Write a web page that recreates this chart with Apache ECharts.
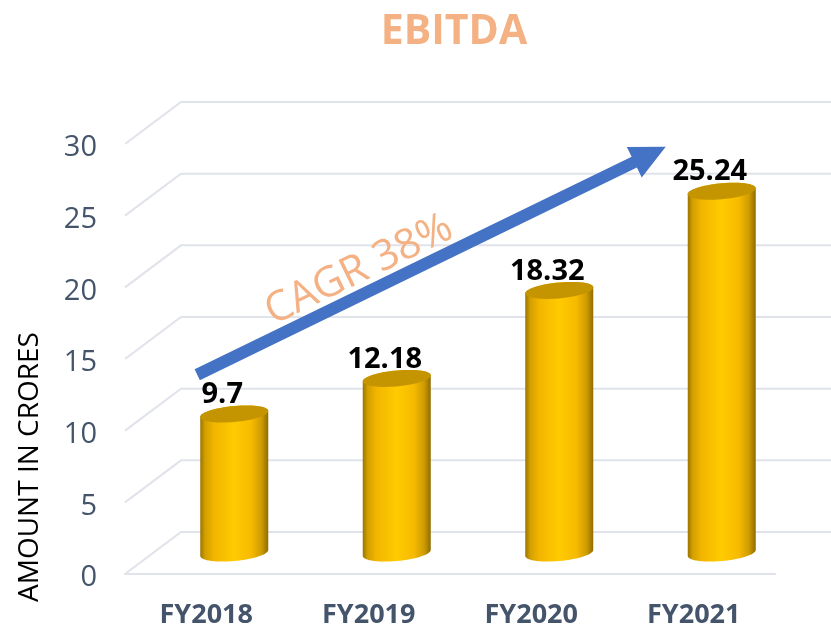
<!DOCTYPE html>
<html><head><meta charset="utf-8">
<style>html,body{margin:0;padding:0;background:#fff}#c{width:831px;height:629px}</style>
<script src="https://cdn.jsdelivr.net/npm/echarts@6/dist/echarts.min.js"></script>
</head><body><div id="c"></div>
<script>
const categories = ['FY2018','FY2019','FY2020','FY2021'];
const values = [9.7,12.18,18.32,25.24];
const labels = ['9.7','12.18','18.32','25.24'];
const yTicks = [0,5,10,15,20,25,30];
const arrowFrom = ['FY2018',13.9];
const arrowTo = ['FY2021',29.8];
const cagrText = 'CAGR 38%';
const yName = 'AMOUNT IN CRORES';
const titleText = 'EBITDA';

const DX = 56, DY = -42, FONT = '"Open Sans", sans-serif';
const GRID = '#E0E3EA', ORANGE = '#F4B183', SLATE = '#44546A';

function ell(cx, cy, from, to, n){
  const pts = [];
  for (let i = 0; i <= n; i++){
    const t = from + (to-from)*i/n;
    pts.push([cx + 34*Math.cos(t), cy - 3*Math.cos(t) - 8*Math.sin(t)]);
  }
  return pts;
}
function renderWall(params, api){
  const cs = params.coordSys;
  const y = api.coord([categories[0], api.value(0)])[1];
  return {type:'polyline', z2:1, shape:{points:[[cs.x,y],[cs.x+DX,y+DY],[cs.x+cs.width+DX,y+DY]]},
    style:{stroke:GRID, lineWidth:2, fill:null}};
}
function renderCyl(params, api){
  const p = api.coord([api.value(0), api.value(1)]);
  const p0 = api.coord([api.value(0), 0]);
  const cx = p0[0]+DX/2, by = p0[1]+DY/2, ty = p[1]+DY/2;
  const body = ell(cx,by,Math.PI,2*Math.PI,30).concat(ell(cx,ty,0,Math.PI,30));
  const grad = {type:'linear',x:cx-34,y:0,x2:cx+34,y2:0,global:true,colorStops:[
    {offset:0,color:'#9A7400'},{offset:0.07,color:'#D19F00'},{offset:0.2,color:'#F2B500'},
    {offset:0.5,color:'#FFCB00'},{offset:0.75,color:'#F6BA00'},{offset:0.9,color:'#CF9C00'},{offset:1,color:'#8F6C00'}]};
  return {type:'group', children:[
    {type:'polygon',shape:{points:body},style:{fill:grad}},
    {type:'polygon',shape:{points:ell(cx,ty,0,2*Math.PI,60)},style:{fill:'#C49500'}},
    {type:'text',style:{text:labels[params.dataIndex],x:cx-12,y:ty-19,align:'center',verticalAlign:'middle',
      font:'bold 29px '+FONT,fill:'#000'}}
  ]};
}
function renderArrow(params, api){
  const a = api.coord(arrowFrom), b = api.coord(arrowTo);
  const x0=a[0]-9,y0=a[1],x1=b[0]-28,y1=b[1];
  const L=Math.hypot(x1-x0,y1-y0),ux=(x1-x0)/L,uy=(y1-y0)/L,nx=-uy,ny=ux;
  const hl=35,hw=17,sw=6;
  const bx=x1-ux*hl,by=y1-uy*hl;
  const ang=Math.atan2(-(y1-y0),x1-x0);
  return {type:'group',children:[
    {type:'polygon',shape:{points:[[x0+nx*sw,y0+ny*sw],[bx+nx*sw,by+ny*sw],[bx+nx*hw,by+ny*hw],[x1,y1],[bx-nx*hw,by-ny*hw],[bx-nx*sw,by-ny*sw],[x0-nx*sw,y0-ny*sw]]},
     style:{fill:'#4472C4'}},
    {type:'text',x:359,y:270,rotation:ang,style:{text:cagrText,x:0,y:0,align:'center',verticalAlign:'middle',
      font:'42px '+FONT,fill:ORANGE}}
  ]};
}
const chart = echarts.init(document.getElementById('c'),null,{renderer:'canvas'});
chart.setOption({
  animation:false, backgroundColor:'#fff',
  title:{text:titleText,left:449,top:7,textAlign:'center',textStyle:{color:ORANGE,fontFamily:FONT,fontWeight:'bold',fontSize:41}},
  grid:{left:125,right:56,top:144,bottom:55,containLabel:false},
  xAxis:{type:'category',data:categories,axisTick:{show:false},
    axisLine:{show:true,lineStyle:{color:GRID,width:2}},
    axisLabel:{color:SLATE,fontFamily:FONT,fontWeight:'bold',fontSize:27,margin:28}},
  yAxis:{type:'value',min:0,max:30,interval:5,axisLine:{show:false},axisTick:{show:false},splitLine:{show:false},
    axisLabel:{color:SLATE,fontFamily:FONT,fontSize:29,margin:28,verticalAlign:'top',lineHeight:8}},
  graphic:[{type:'text',x:30,y:467,rotation:Math.PI/2,style:{text:yName,align:'center',verticalAlign:'middle',font:'28px '+FONT,fill:'#000'}}],
  series:[
    {type:'custom',z:1,silent:true,data:yTicks.map(v=>[v]),encode:{y:0},renderItem:renderWall},
    {type:'custom',z:2,silent:true,data:categories.map((c,i)=>[c,values[i]]),encode:{x:0,y:1},renderItem:renderCyl},
    {type:'custom',z:3,silent:true,data:[[arrowFrom[0],arrowFrom[1]]],encode:{x:0,y:1},renderItem:renderArrow}
  ]
});
</script></body></html>
